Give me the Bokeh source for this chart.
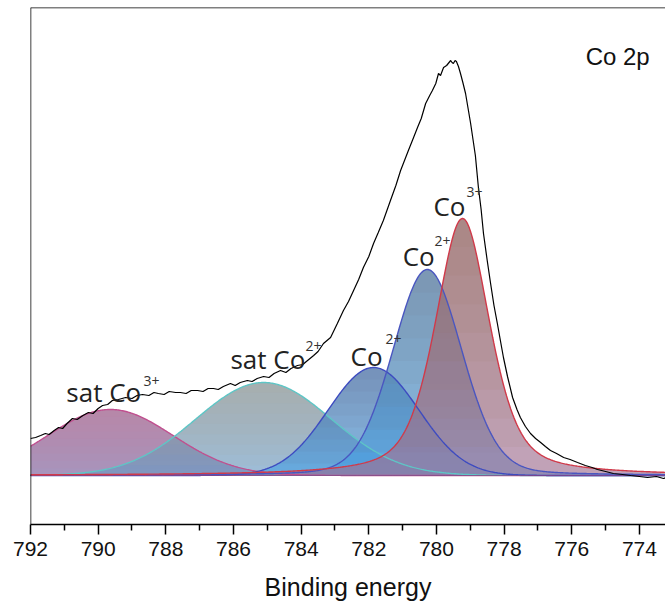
import numpy as np
from bokeh.plotting import figure
from bokeh.models import Range1d, Span, FixedTicker
from bokeh.core.properties import value
from bokeh.embed import file_html
from bokeh.resources import INLINE

# Measured Co 2p spectrum (binding energy in eV, intensity in a.u.)
be_raw = [792.00, 791.85, 791.70, 791.56, 791.45, 791.30, 791.17, 791.05, 790.92, 790.76,
          790.62, 790.45, 790.29, 790.15, 790.00, 789.87, 789.72, 789.58, 789.40, 789.19,
          789.00, 788.85, 788.69, 788.50, 788.35, 788.22, 788.05, 787.90, 787.71, 787.57,
          787.40, 787.25, 787.06, 786.90, 786.75, 786.59, 786.45, 786.30, 786.09, 785.95,
          785.80, 785.59, 785.45, 785.30, 785.11, 784.95, 784.80, 784.61, 784.45, 784.30,
          784.11, 783.95, 783.81, 783.63, 783.50, 783.34, 783.13, 782.93, 782.75, 782.60,
          782.45, 782.30, 782.16, 782.00, 781.86, 781.72, 781.57, 781.36, 781.20, 781.06,
          780.83, 780.70, 780.56, 780.45, 780.32, 780.20, 780.12, 780.02, 779.94, 779.88,
          779.79, 779.70, 779.58, 779.54, 779.50, 779.45, 779.41, 779.35, 779.29, 779.22,
          779.14, 779.07, 778.99, 778.92, 778.85, 778.76, 778.68, 778.61, 778.50, 778.40,
          778.30, 778.20, 778.10, 778.02, 777.90, 777.75, 777.62, 777.52, 777.37, 777.22,
          777.07, 776.92, 776.78, 776.63, 776.45, 776.24, 776.05, 775.83, 775.60, 775.40,
          775.24, 775.00, 774.77, 774.50, 774.26, 774.00, 773.76, 773.50, 773.29, 773.20]
int_raw = [37, 38, 40, 42, 41, 45, 48, 47, 52, 57,
           56, 60, 63, 62, 67, 70, 71, 75, 76, 78,
           77, 80, 81, 80, 83, 82, 81, 84, 83, 83,
           82, 85, 85, 84, 87, 87, 86, 89, 92, 90,
           93, 95, 94, 97, 99, 98, 102, 105, 103, 107,
           110, 111, 115, 120, 124, 132, 138, 152, 165, 174,
           185, 196, 208, 219, 232, 243, 255, 275, 290, 305,
           325, 336, 348, 357, 372, 380, 385, 392, 402, 400,
           408, 410, 415, 413, 412, 415, 414, 409, 402, 393,
           382, 368, 352, 336, 320, 288, 266, 242, 215, 192,
           170, 152, 133, 118, 99, 78, 66, 58, 49, 42,
           37, 33, 29, 25, 22, 18, 16, 13, 10, 8,
           6, 4, 2, 1, 0, -1, -2, -1, -3, -2]

# Fitted components: pseudo-Voigt (center, height, HWHM, Lorentzian fraction)
comp_names = ["sat Co3+", "sat Co2+", "Co2+ (a)", "Co2+ (b)", "Co3+"]
comp_center = [789.64, 785.11, 781.86, 780.27, 779.23]
comp_height = [66, 93, 108, 206, 257]
comp_hwhm = [2.18, 2.36, 1.58, 1.21, 0.95]
comp_eta = [0.0, 0.0, 0.0, 0.15, 0.5]
# gradient fill: colour near the baseline and colour towards the apex
comp_fill_low = ["#7a5a98", "#6a98c0", "#4a9ee0", "#4a9ee0", "#a07090"]
comp_fill_high = ["#c9859c", "#b5a690", "#676a8e", "#717484", "#9e715a"]
comp_line = ["#c0508f", "#5ec6c6", "#3d4bc0", "#4a56c0", "#d03a4a"]

# Peak labels: base text, superscript
lab_base = ["sat Co", "sat Co", "Co", "Co", "Co"]
lab_sup = ["3+", "2+", "2+", "2+", "3+"]
lab_x = [790.94, 786.09, 782.54, 781.00, 780.09]
lab_y = [84, 117, 120, 220, 270]
sup_x = [788.66, 783.87, 781.51, 780.06, 779.11]
sup_y = [95, 130, 137, 235, 284]

ticks = [792, 790, 788, 786, 784, 782, 780, 778, 776, 774]
minor = [791, 789, 787, 785, 783, 781, 779, 777, 775, 773]

X_LEFT, X_RIGHT = 792, 773.23
Y_BOTTOM, Y_TOP = -49, 468

p = figure(width=665, height=613, x_range=Range1d(X_LEFT, X_RIGHT),
           y_range=Range1d(Y_BOTTOM, Y_TOP), output_backend="svg",
           toolbar_location=None, min_border_left=30, min_border_right=0,
           min_border_top=7, min_border_bottom=89)
p.grid.visible = False
p.yaxis.visible = False
p.outline_line_color = None
p.background_fill_color = "white"
p.border_fill_color = "white"

ax = p.xaxis[0]
ax.ticker = FixedTicker(ticks=ticks, minor_ticks=minor)
ax.axis_line_width = 1.5
ax.major_tick_line_width = 1.5
ax.minor_tick_line_width = 1.5
ax.major_tick_out = 10
ax.major_tick_in = 0
ax.minor_tick_out = 6
ax.minor_tick_in = 0
ax.major_label_text_font = "Liberation Sans"
ax.major_label_text_font_size = "21px"
ax.major_label_text_color = "#111111"
ax.major_label_standoff = 7
ax.axis_label = "Binding energy"
ax.axis_label_text_font = "Liberation Sans"
ax.axis_label_text_font_size = "25px"
ax.axis_label_text_font_style = "normal"
ax.axis_label_text_color = "#111111"
ax.axis_label_standoff = 14

p.add_layout(Span(location=X_LEFT, dimension="height", line_color="black", line_width=1.5))
p.add_layout(Span(location=Y_TOP, dimension="width", line_color="black", line_width=1.5))

xs = np.linspace(X_LEFT, X_RIGHT, 600)
profiles = []
for c, h, w, eta in zip(comp_center, comp_height, comp_hwhm, comp_eta):
    u = (xs - c) / w
    profiles.append(h * (eta / (1 + u ** 2) + (1 - eta) * np.exp(-np.log(2) * u ** 2)))

# Gradient fills: an opaque-ish base in the low colour, then nested layers
# that start higher and higher, tinting the upper part of each peak.
N_LAYERS = 9
for prof, h, low, high in zip(profiles, comp_height, comp_fill_low, comp_fill_high):
    p.varea(x=xs, y1=np.zeros_like(xs), y2=prof, fill_color=low, fill_alpha=0.65)
    for k in range(1, N_LAYERS):
        lo = np.minimum(prof, h * k / N_LAYERS)
        p.varea(x=xs, y1=lo, y2=prof, fill_color=high, fill_alpha=0.08)

for prof, lc in zip(profiles, comp_line):
    p.line(xs, prof, line_color=lc, line_width=1.4)
    p.line(xs, np.zeros_like(xs), line_color=lc, line_width=1.0, line_alpha=0.4)

p.line(be_raw, int_raw, line_color="black", line_width=1.2)

p.text(x=lab_x, y=lab_y, text=lab_base, text_font=value("Open Sans"),
       text_font_size="26px", text_color="#222222", text_baseline="alphabetic",
       text_align="left")
p.text(x=sup_x, y=sup_y, text=lab_sup, text_font=value("Open Sans"),
       text_font_size="14px", text_color="#333333", text_baseline="alphabetic",
       text_align="left")
p.text(x=[775.59], y=[419], text=["Co 2p"], text_font=value("Liberation Sans"),
       text_font_size="24px", text_color="#111111", text_baseline="alphabetic",
       text_align="left")

open("out.html", "w").write(file_html(p, INLINE))
